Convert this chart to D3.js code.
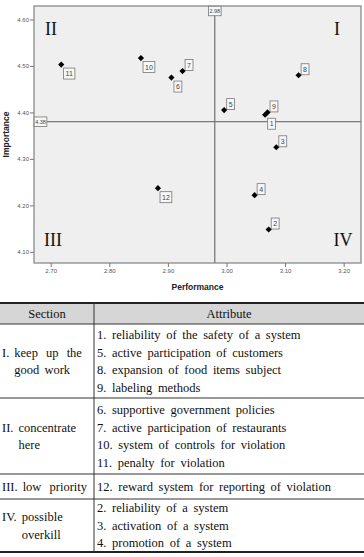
<!DOCTYPE html>
<html>
<head>
<meta charset="utf-8">
<script src="https://cdn.jsdelivr.net/npm/d3@7"></script>
<style>
  body { margin: 0; background: #fff; }
  svg { display: block; }
</style>
</head>
<body>
<div id="chart"></div>
<script>
// attribute numbers and their mean scores
var attributeIds = ["1", "2", "3", "4", "5", "6", "7", "8", "9", "10", "11", "12"];
var performance = [3.066, 3.072, 3.085, 3.048, 2.996, 2.906, 2.925, 3.123, 3.070, 2.854, 2.718, 2.883];
var importance = [4.395, 4.148, 4.325, 4.222, 4.405, 4.475, 4.489, 4.480, 4.400, 4.517, 4.503, 4.237];
// where the little number box sits next to the point
var labelSide = ["down", "up", "up", "up", "up", "down", "up", "up", "up", "down", "down", "down"];

var meanPerformance = 2.98;
var meanImportance = 4.38;

var xTicks = [2.70, 2.80, 2.90, 3.00, 3.10, 3.20];
var yTicks = [4.10, 4.20, 4.30, 4.40, 4.50, 4.60];

var sectionNames = [
    ["I.", "keep up the", "good work"],
    ["II.", "concentrate", "here"],
    ["III.", "low priority"],
    ["IV.", "possible", "overkill"]
];
var sectionAttributes = [
    ["1. reliability of the safety of a system", "5. active participation of customers", "8. expansion of food items subject", "9. labeling methods"],
    ["6. supportive government policies", "7. active participation of restaurants", "10. system of controls for violation", "11. penalty for violation"],
    ["12. reward system for reporting of violation"],
    ["2. reliability of a system", "3. activation of a system", "4. promotion of a system"]
];
var rowHeights = [74, 76, 25, 53];

var width = 364, height = 557;
var plot = { left: 34, top: 6, right: 361, bottom: 263 };
var serif = "'Liberation Serif', 'Times New Roman', serif";
var sans = "'Liberation Sans', Arial, sans-serif";

var svg = d3.select("#chart").append("svg")
    .attr("width", width)
    .attr("height", height);

var x = d3.scaleLinear().domain([2.6715, 3.2296]).range([plot.left, plot.right]);
var y = d3.scaleLinear().domain([4.076, 4.629]).range([plot.bottom, plot.top]);

svg.append("rect")
    .attr("x", plot.left)
    .attr("y", plot.top)
    .attr("width", plot.right - plot.left)
    .attr("height", plot.bottom - plot.top)
    .attr("fill", "#efefef")
    .attr("stroke", "#8a8a8a")
    .attr("stroke-width", 1.3);

// axes
var xAxis = svg.append("g")
    .attr("transform", "translate(0," + plot.bottom + ")")
    .call(d3.axisBottom(x).tickValues(xTicks).tickFormat(d3.format(".2f")).tickSize(4).tickSizeOuter(0));
var yAxis = svg.append("g")
    .attr("transform", "translate(" + plot.left + ",0)")
    .call(d3.axisLeft(y).tickValues(yTicks).tickFormat(d3.format(".2f")).tickSize(4).tickSizeOuter(0));

[xAxis, yAxis].forEach(function (g) {
    g.select(".domain").remove();
    g.selectAll(".tick line").attr("stroke", "#777");
    g.selectAll(".tick text")
        .attr("fill", "#555")
        .style("font-family", sans)
        .style("font-size", "6px");
});
xAxis.selectAll(".tick text").attr("dy", "0.9em").attr("y", 5);
yAxis.selectAll(".tick text").attr("x", -5);

svg.append("text")
    .attr("x", (plot.left + plot.right) / 2)
    .attr("y", 290)
    .attr("text-anchor", "middle")
    .style("font-family", sans)
    .style("font-weight", "bold")
    .style("font-size", "8.5px")
    .attr("fill", "#222")
    .text("Performance");

svg.append("text")
    .attr("transform", "translate(9," + (plot.top + plot.bottom) / 2 + ") rotate(-90)")
    .attr("text-anchor", "middle")
    .style("font-family", sans)
    .style("font-weight", "bold")
    .style("font-size", "8.5px")
    .attr("fill", "#222")
    .text("Importance");

// mean reference lines
svg.append("line")
    .attr("x1", x(meanPerformance)).attr("x2", x(meanPerformance))
    .attr("y1", plot.top).attr("y2", plot.bottom)
    .attr("stroke", "#7a7a7a").attr("stroke-width", 1.3);
svg.append("line")
    .attr("x1", plot.left).attr("x2", plot.right)
    .attr("y1", y(meanImportance)).attr("y2", y(meanImportance))
    .attr("stroke", "#7a7a7a").attr("stroke-width", 1.3);

function smallBox(cx, cy, label, fontSize, pad) {
    var g = svg.append("g");
    var t = g.append("text")
        .attr("x", cx)
        .attr("y", cy)
        .attr("text-anchor", "middle")
        .attr("dy", "0.35em")
        .style("font-family", sans)
        .style("font-size", fontSize + "px")
        .attr("fill", "#444")
        .text(label);
    var w = t.node().getComputedTextLength() + pad * 2;
    var h = fontSize + 4;
    g.insert("rect", "text")
        .attr("x", cx - w / 2)
        .attr("y", cy - h / 2)
        .attr("width", w)
        .attr("height", h)
        .attr("fill", "#f7f7f7")
        .attr("stroke", "#777")
        .attr("stroke-width", 0.8);
}

smallBox(x(meanPerformance), plot.top + 5, meanPerformance.toFixed(2), 5.5, 1);
smallBox(plot.left + 6.5, y(meanImportance), meanImportance.toFixed(2), 5.5, 1);

// points
var points = attributeIds.map(function (id, i) {
    return { id: id, px: performance[i], py: importance[i], side: labelSide[i] };
});

points.forEach(function (d) {
    var cx = x(d.px), cy = y(d.py);
    var dx = d.id.length > 1 ? 8 : 6.5;
    var dy = d.side === "up" ? -6 : 9;
    smallBox(cx + dx, cy + dy, d.id, 7, 2);
});

svg.selectAll("path.pt")
    .data(points)
    .enter()
    .append("path")
    .attr("class", "pt")
    .attr("d", d3.symbol().type(d3.symbolSquare).size(19))
    .attr("transform", function (d) { return "translate(" + x(d.px) + "," + y(d.py) + ") rotate(45)"; })
    .attr("fill", "#000");

// quadrant numerals
var quadrants = [
    { t: "II", x: plot.left + 17, y: plot.top + 29 },
    { t: "I", x: plot.right - 24, y: plot.top + 29 },
    { t: "III", x: plot.left + 19, y: plot.bottom - 17 },
    { t: "IV", x: plot.right - 18, y: plot.bottom - 17 }
];
svg.selectAll("text.quad")
    .data(quadrants)
    .enter()
    .append("text")
    .attr("class", "quad")
    .attr("x", function (d) { return d.x; })
    .attr("y", function (d) { return d.y; })
    .attr("text-anchor", "middle")
    .style("font-family", serif)
    .style("font-size", "18px")
    .attr("fill", "#111")
    .text(function (d) { return d.t; });

// table
var tableTop = 303, headerH = 21, colSplit = 94;
var table = svg.append("g");

function cellText(tx, ty, str, spacing) {
    return table.append("text")
        .attr("x", tx).attr("y", ty).attr("dy", "0.35em")
        .style("font-family", serif).style("font-size", "12.5px")
        .style("word-spacing", spacing + "px")
        .attr("fill", "#111")
        .text(str);
}

table.append("rect")
    .attr("x", 0).attr("y", tableTop)
    .attr("width", width).attr("height", headerH)
    .attr("fill", "#d6d6d6");

cellText(colSplit / 2, tableTop + headerH / 2, "Section", 0).attr("text-anchor", "middle");
cellText((colSplit + width) / 2, tableTop + headerH / 2, "Attribute", 0).attr("text-anchor", "middle");

var lineGap = 17.5;
var rowTop = tableTop + headerH;
var rowLines = [rowTop];

sectionNames.forEach(function (name, i) {
    var h = rowHeights[i];
    var mid = rowTop + h / 2;

    // left cell: numeral, then the words with a hanging indent
    var nLeft = name.length - 1;
    var first = mid - (nLeft - 1) * lineGap / 2;
    var numeral = cellText(2, first, name[0], 0);
    var indent = 2 + numeral.node().getComputedTextLength() + 5;
    for (var k = 1; k < name.length; k++) {
        cellText(indent, first + (k - 1) * lineGap, name[k], k === 1 ? 5 : 2);
    }

    // right cell
    var attrs = sectionAttributes[i];
    var top = mid - (attrs.length - 1) * lineGap / 2;
    attrs.forEach(function (a, j) {
        cellText(colSplit + 3, top + j * lineGap, a, 2.5);
    });

    rowTop += h;
    rowLines.push(rowTop);
});

table.selectAll("line.row")
    .data(rowLines.slice(0, -1))
    .enter()
    .append("line")
    .attr("class", "row")
    .attr("x1", 0).attr("x2", width)
    .attr("y1", function (d) { return d; }).attr("y2", function (d) { return d; })
    .attr("stroke", "#333").attr("stroke-width", 1);

table.append("line")
    .attr("x1", 0).attr("x2", width)
    .attr("y1", tableTop).attr("y2", tableTop)
    .attr("stroke", "#222").attr("stroke-width", 2);
table.append("line")
    .attr("x1", 0).attr("x2", width)
    .attr("y1", rowTop).attr("y2", rowTop)
    .attr("stroke", "#222").attr("stroke-width", 2);
table.append("line")
    .attr("x1", colSplit).attr("x2", colSplit)
    .attr("y1", tableTop).attr("y2", rowTop)
    .attr("stroke", "#333").attr("stroke-width", 1);
</script>
</body>
</html>
